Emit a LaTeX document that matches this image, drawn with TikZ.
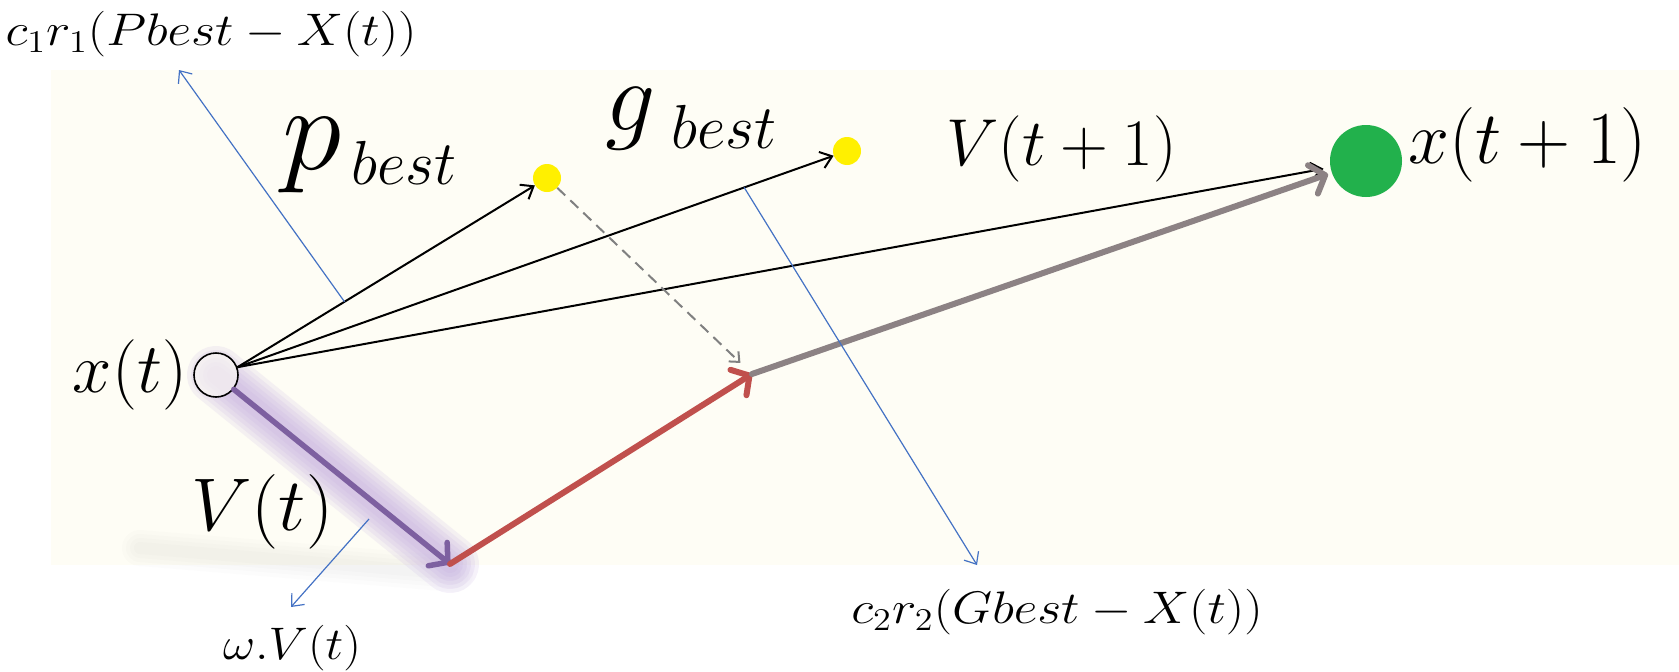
\documentclass[tikz,border=0pt]{standalone}
\usepackage{fontspec}
\usetikzlibrary{arrows.meta,positioning}

\definecolor{cream}{RGB}{254,253,245}
\definecolor{noteblue}{RGB}{68,114,196}
\definecolor{vred}{RGB}{192,80,77}
\definecolor{vgrey}{RGB}{140,130,132}
\definecolor{vpurple}{RGB}{125,96,160}
\definecolor{glow}{RGB}{190,165,222}
\definecolor{dotgreen}{RGB}{34,177,76}
\definecolor{dotyellow}{RGB}{255,240,0}

% math set at \huge, then scaled up
\newcommand{\bigmath}[3]{\scalebox{#1}[#2]{\huge$#3$}}

\begin{document}
\begin{tikzpicture}[
  x=1pt, y=-1pt,
  dot/.style={circle, inner sep=0pt},
  lbl/.style={inner sep=0pt},
  move/.style={-{Straight Barb[length=11pt,width=17pt]}, line width=2pt},
  note/.style={noteblue, line width=1.2pt, -{Straight Barb[length=10pt,width=17pt]}},
  vec/.style={line width=6pt, line cap=round, -{Straight Barb[round,length=13pt,width=30pt]}}
]
  \useasboundingbox (0,0) rectangle (1679,672);
  \fill[cream] (51,70) rectangle (1679,565);

  % particle positions
  \coordinate (vt) at (450,564);
  \coordinate (mid) at (752,374);
  \node[dot, fill=dotyellow, minimum size=28pt] (pb) at (547,178) {};
  \node[dot, fill=dotyellow, minimum size=28pt] (gb) at (847,151) {};
  \node[dot, fill=dotgreen, minimum size=72pt] (xn) at (1366,161) {};
  \coordinate (xc) at (216,375);

  % shadow and glow
  \foreach \w in {36,28,20,12}
    \draw[line width=\w pt, gray, opacity=0.025, line cap=round] (140,548) -- (455,574);
  \foreach \w in {58,50,42,34,26,18}
    \draw[glow, line width=\w pt, opacity=0.14, line cap=round] (xc) -- (vt);

  \node[dot, draw, fill=cream, fill opacity=0.6, line width=1.6pt, minimum size=44pt] (xt) at (xc) {};

  % labels
  \node[lbl, left=6pt of xt] (xtlbl) {\bigmath{3.4}{3.4}{x(t)}};
  \node[lbl, anchor=base west] (pblbl) at (282,169)
    {\bigmath{5.8}{5.8}{p}\hspace{10pt}\raisebox{-15pt}{\bigmath{3}{3}{best}}};
  \node[lbl, anchor=base west] (gblbl) at (605,130)
    {\bigmath{4.8}{4.8}{g}\hspace{16pt}\raisebox{-18pt}{\bigmath{3}{3}{best}}};
  \node[lbl, anchor=base west] (vnlbl) at (946,165) {\bigmath{3.2}{3.2}{V(t+1)}};
  \node[lbl, anchor=base west] (xnlbl) at ([xshift=6pt,yshift=-2pt]xn.east)
    {\bigmath{3.55}{3.6}{x(t+1)}};
  \node[lbl, anchor=base west] (vtlbl) at (191,530) {\bigmath{3.7}{3.6}{V(t)}};

  % velocity update
  \draw[move] (xt.20) -- (pb);
  \draw[move] (xt.20) -- (gb);
  \draw[move, shorten >=7pt] (xt.20) -- (xn);
  \draw[gray, line width=2pt, dash pattern=on 11pt off 7pt,
    -{Straight Barb[length=8pt,width=14pt]}, shorten >=16pt] (pb) -- (mid);
  \draw[vec, vpurple, line width=5.5pt] (xt) -- (vt);
  \draw[vec, vred] (vt) -- (mid);
  \draw[vec, vgrey, shorten >=4pt] (mid) -- (xn);

  % term notes
  \path (xt.20) -- (pb) coordinate[pos=0.36] (n1);
  \path (xt.20) -- (gb) coordinate[pos=0.85] (n2);
  \coordinate (n1tip) at (179,70);
  \coordinate (n2tip) at (977,565);
  \coordinate (n3) at (369,519);
  \coordinate (n3tip) at (291,607);
  \node[lbl] (c1lbl) at (211,34) {\bigmath{2.5}{2.2}{c_1r_1(Pbest-X(t))}};
  \node[lbl] (c2lbl) at (1057,612) {\bigmath{2.5}{2.2}{c_2r_2(Gbest-X(t))}};
  \node[lbl] (wlbl) at (292,648) {\bigmath{2.4}{2.2}{\omega.V(t)}};
  \draw[note] (n1) -- (n1tip);
  \draw[note] (n2) -- (n2tip);
  \draw[note] (n3) -- (n3tip);
\end{tikzpicture}
\end{document}
